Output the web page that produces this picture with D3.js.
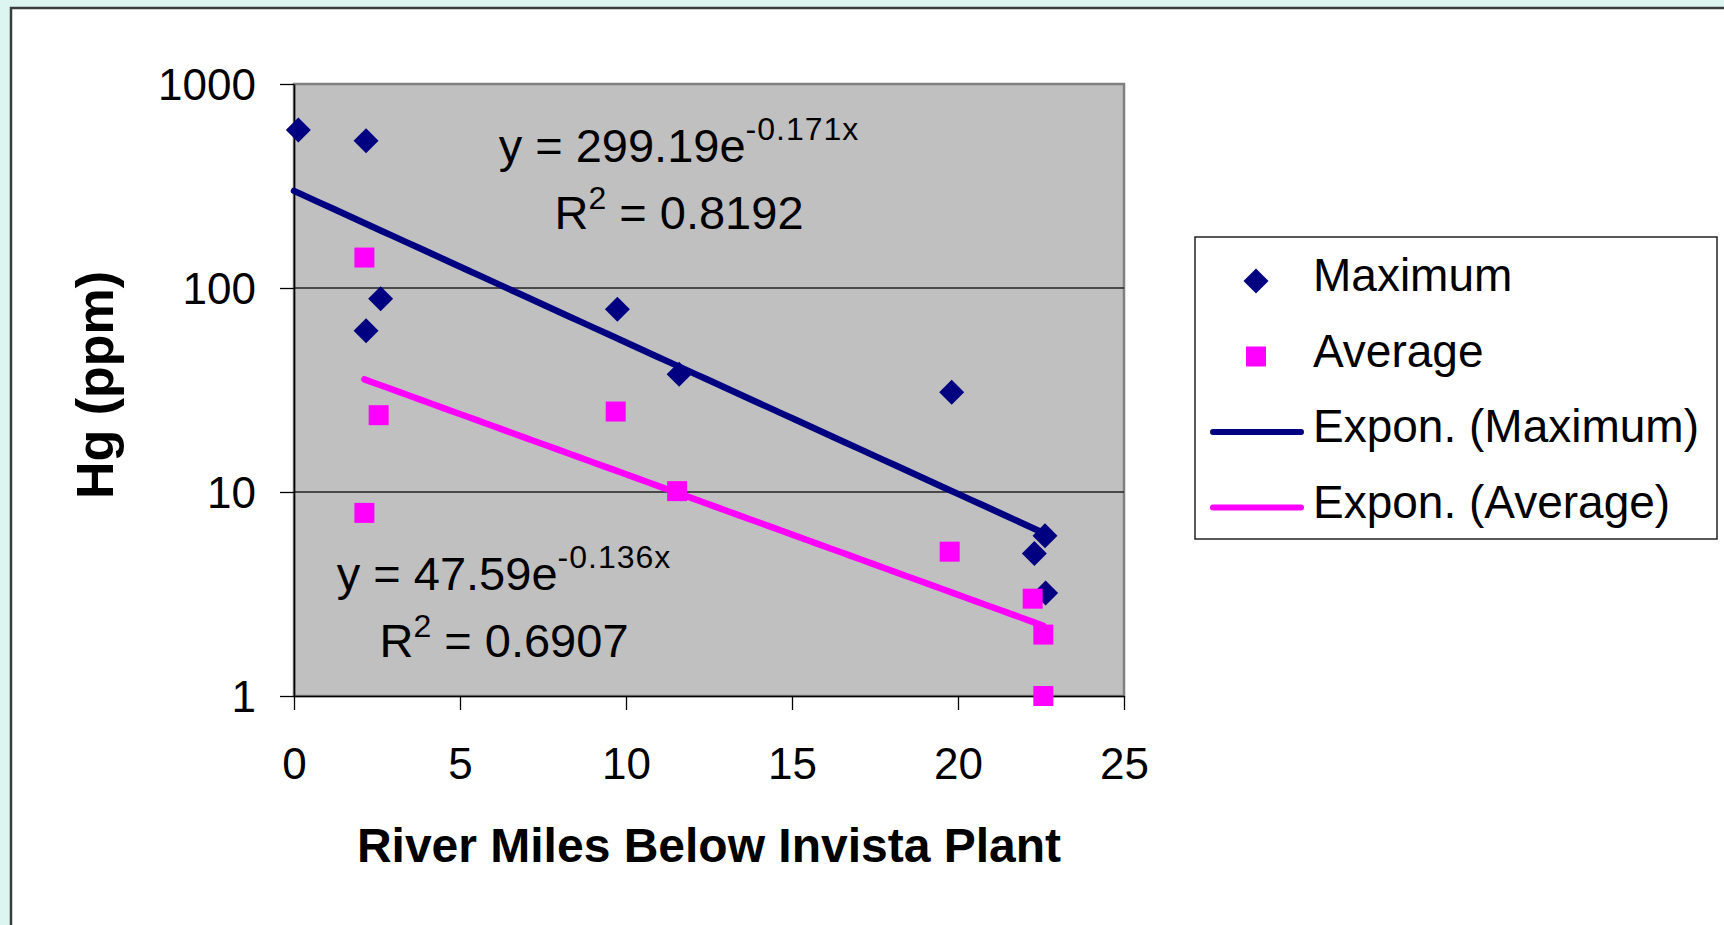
<!DOCTYPE html>
<html>
<head>
<meta charset="utf-8">
<script src="https://cdn.jsdelivr.net/npm/d3@7"></script>
<style>
    body { margin: 0; background: #ddf5f1; }
    svg { display: block; font-family: "Liberation Sans", Arial, sans-serif; }
    .tick-label { font-size: 44px; fill: #000; }
    .legend-label { font-size: 46px; fill: #000; }
    .eq { font-size: 47px; fill: #000; }
    .axis-title { font-weight: bold; fill: #000; }
</style>
</head>
<body>
<div class="chart"></div>
<script>
// river mile / mercury readings
const maxMiles = [0.13, 2.17, 2.61, 2.17, 9.74, 11.6, 19.81, 22.30, 22.62, 22.64];
const maxHg = [595, 527, 88.6, 61.8, 78.6, 37.8, 30.8, 5.0, 6.1, 3.2];
const avgMiles = [2.12, 2.55, 2.12, 9.69, 11.54, 19.75, 22.25, 22.57, 22.57];
const avgHg = [141, 23.8, 7.9, 24.8, 10.1, 5.1, 3.0, 2.0, 1.0];

// exponential fits y = a * e^(b x)
const maxFit = {a: 299.19, b: -0.171, r2: "0.8192"};
const avgFit = {a: 47.59, b: -0.136, r2: "0.6907"};

const xTicks = [0, 5, 10, 15, 20, 25];
const yTicks = [1, 10, 100, 1000];
const legendLabels = ["Maximum", "Average", "Expon. (Maximum)", "Expon. (Average)"];

const width = 1724, height = 925;
const plot = {left: 294, right: 1124, top: 84, bottom: 696};
const navy = "#000080", pink = "#ff00ff";

const svg = d3.select(".chart").append("svg")
    .attr("width", width)
    .attr("height", height);

// white panel with dark frame
svg.append("rect")
    .attr("x", 11).attr("y", 8)
    .attr("width", width + 20).attr("height", height + 20)
    .attr("fill", "#fff")
    .attr("stroke", "#3a3d3d")
    .attr("stroke-width", 2.5);

const x = d3.scaleLinear().domain([0, 25]).range([plot.left, plot.right]);
const y = d3.scaleLog().domain([1, 1000]).range([plot.bottom, plot.top]);

// plot area
svg.append("rect")
    .attr("x", plot.left).attr("y", plot.top)
    .attr("width", plot.right - plot.left)
    .attr("height", plot.bottom - plot.top)
    .attr("fill", "#c0c0c0")
    .attr("stroke", "#808080")
    .attr("stroke-width", 2.5);

// gridlines
svg.append("g")
    .selectAll("line")
    .data(yTicks.filter(d => d > 1 && d < 1000))
    .join("line")
    .attr("x1", plot.left).attr("x2", plot.right)
    .attr("y1", d => y(d)).attr("y2", d => y(d))
    .attr("stroke", "#222")
    .attr("stroke-width", 1.3);

// axes
const yAxis = svg.append("g")
    .attr("transform", `translate(${plot.left},0)`)
    .call(d3.axisLeft(y).tickValues(yTicks).tickFormat(d3.format("d"))
        .tickSizeInner(14).tickSizeOuter(0).tickPadding(24));
const xAxis = svg.append("g")
    .attr("transform", `translate(0,${plot.bottom})`)
    .call(d3.axisBottom(x).tickValues(xTicks)
        .tickSizeInner(14).tickSizeOuter(0).tickPadding(36));

[yAxis, xAxis].forEach(ax => {
    ax.select(".domain").attr("stroke", "#000").attr("stroke-width", 1.6);
    ax.selectAll(".tick line").attr("stroke", "#000").attr("stroke-width", 1.3);
    ax.selectAll(".tick text")
        .attr("class", "tick-label")
        .attr("font-family", null).attr("font-size", null);
});
yAxis.selectAll(".tick text").attr("dy", "0.36em");
xAxis.selectAll(".tick text").attr("dy", "0.75em");

const diamond = d3.symbol(d3.symbolSquare, 312)();
const square = d3.symbol(d3.symbolSquare, 400)();

// data markers
svg.append("g")
    .selectAll("path")
    .data(maxMiles.map((m, i) => [m, maxHg[i]]))
    .join("path")
    .attr("d", diamond)
    .attr("transform", d => `translate(${x(d[0])},${y(d[1])}) rotate(45)`)
    .attr("fill", navy);

svg.append("g")
    .selectAll("path")
    .data(avgMiles.map((m, i) => [m, avgHg[i]]))
    .join("path")
    .attr("d", square)
    .attr("transform", d => `translate(${x(d[0])},${y(d[1])})`)
    .attr("fill", pink);

// trendlines from the fitted equations
function fitCurve(fit, miles) {
    const x0 = d3.min(miles), x1 = d3.max(miles);
    return d3.range(0, 61).map(i => {
        const xv = x0 + (x1 - x0) * i / 60;
        return [xv, fit.a * Math.exp(fit.b * xv)];
    });
}
const line = d3.line().x(d => x(d[0])).y(d => y(d[1]));

svg.append("path")
    .datum(fitCurve(maxFit, [0].concat(maxMiles)))
    .attr("d", line)
    .attr("fill", "none")
    .attr("stroke", navy)
    .attr("stroke-width", 6.5)
    .attr("stroke-linecap", "round");

svg.append("path")
    .datum(fitCurve(avgFit, avgMiles))
    .attr("d", line)
    .attr("fill", "none")
    .attr("stroke", pink)
    .attr("stroke-width", 6.5)
    .attr("stroke-linecap", "round");

// equation labels
function drawEquation(fit, cx, baseline) {
    const g = svg.append("g");
    const l1 = g.append("text").attr("class", "eq")
        .attr("x", cx).attr("y", baseline).attr("text-anchor", "middle");
    l1.append("tspan").text(`y = ${fit.a}e`);
    l1.append("tspan").attr("dy", -22).attr("font-size", 32).attr("letter-spacing", 1)
        .text(`${fit.b}x`);

    const l2 = g.append("text").attr("class", "eq")
        .attr("x", cx).attr("y", baseline + 67).attr("text-anchor", "middle");
    l2.append("tspan").text("R");
    l2.append("tspan").attr("dy", -20).attr("font-size", 32).text("2");
    l2.append("tspan").attr("dy", 20).text(` = ${fit.r2}`);
}
drawEquation(maxFit, 679, 162);
drawEquation(avgFit, 504, 590);

// axis titles
svg.append("text")
    .attr("class", "axis-title")
    .attr("x", 709).attr("y", 862)
    .attr("text-anchor", "middle")
    .attr("font-size", 48)
    .text("River Miles Below Invista Plant");

svg.append("text")
    .attr("class", "axis-title")
    .attr("transform", "translate(113,385) rotate(-90)")
    .attr("text-anchor", "middle")
    .attr("font-size", 52)
    .text("Hg (ppm)");

// legend
const legend = svg.append("g").attr("transform", "translate(1195,237)");
legend.append("rect")
    .attr("width", 522).attr("height", 302)
    .attr("fill", "#fff")
    .attr("stroke", "#222")
    .attr("stroke-width", 1.5);

const items = legend.selectAll("g.item")
    .data(legendLabels)
    .join("g")
    .attr("class", "item")
    .attr("transform", (_, i) => `translate(0,${44 + i * 75.5})`);

items.append("text")
    .attr("class", "legend-label")
    .attr("x", 118).attr("y", 10)
    .text(d => d);

items.filter((_, i) => i === 0).append("path")
    .attr("d", diamond)
    .attr("transform", "translate(61,0) rotate(45)")
    .attr("fill", navy);
items.filter((_, i) => i === 1).append("path")
    .attr("d", square)
    .attr("transform", "translate(61,0)")
    .attr("fill", pink);
items.filter((_, i) => i >= 2).append("line")
    .attr("x1", 18).attr("x2", 106)
    .attr("stroke", (_, i) => i === 0 ? navy : pink)
    .attr("stroke-width", 6)
    .attr("stroke-linecap", "round");
</script>
</body>
</html>
